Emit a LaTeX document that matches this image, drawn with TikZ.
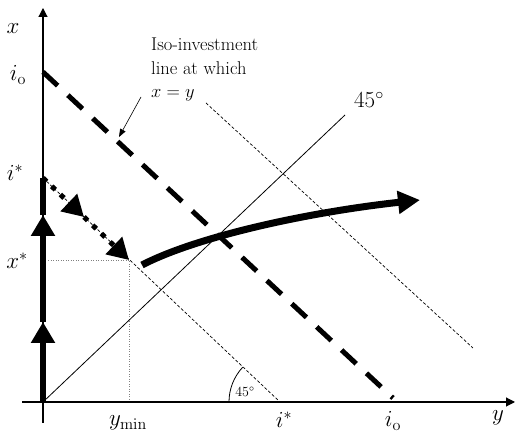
\RequirePackage{fix-cm}
\documentclass[tikz,border=0pt]{standalone}
\usepackage{tikz}
\usetikzlibrary{arrows.meta}

\begin{document}
\begin{tikzpicture}[
    x=1pt, y=-1pt,
    axis/.style={line width=1.1pt, -{Triangle[length=9pt, width=9pt]}},
    bigtip/.style={-{Triangle[length=21pt, width=23pt]}},
    path/.style={line width=6pt},
    iso/.style={line width=5pt, dash pattern=on 20pt off 14pt},
    thindash/.style={line width=0.7pt, dash pattern=on 3pt off 2pt},
    squares/.style={line width=5pt, dash pattern=on 5pt off 7pt},
    guide/.style={gray, line width=0.5pt, dotted},
    big/.style={font=\fontsize{23}{27}\selectfont},
    small/.style={font=\fontsize{14}{16}\selectfont},
    note/.style={font=\fontsize{18.5}{23.5}\selectfont, align=left}
]
\useasboundingbox (0,0) rectangle (515,435);

\coordinate (O) at (43,402);
\coordinate (xtop) at (43,8);
\coordinate (xbot) at (43,423);
\coordinate (yleft) at (22,402);
\coordinate (yright) at (515,402);
\coordinate (io) at (43,72);
\coordinate (ioend) at (393,398);
\coordinate (istar) at (43,178);
\coordinate (istarend) at (280,402);
\coordinate (P) at (129,260);
\coordinate (Pleft) at (48,260);
\coordinate (Pdown) at (129,402);
\coordinate (d1) at (84,217);
\coordinate (a1) at (43,322);
\coordinate (a2) at (43,215);
\coordinate (outer) at (206,103);
\coordinate (outerend) at (473,348);
\coordinate (diag) at (345,115);
\coordinate (cstart) at (142,265);
\coordinate (cend) at (420,200);
\coordinate (ptrstart) at (141,97);
\coordinate (ptr) at (119,137);

\draw[guide] (Pleft) -- (P) -- (Pdown);
\draw[line width=0.8pt] (O) -- (diag);
\draw[thindash] (istar) -- (istarend);
\draw[thindash] (outer) -- (outerend);
\draw[iso] (io) -- (ioend);

\draw[axis] (xbot) -- (xtop);
\draw[axis] (yleft) -- (yright);

\draw[path, bigtip] (O) -- (a1);
\draw[path, bigtip] (a1) -- (a2);
\draw[path] (a2) -- (istar);

\draw[squares, bigtip] (istar) -- (d1);
\draw[squares, bigtip] (d1) -- (P);

\draw[line width=7pt, -{Triangle[length=22pt, width=22pt]}]
    (cstart) .. controls (198,236) and (310,212) .. (cend);

\draw[line width=0.8pt] (istarend) ++(180:51) arc[start angle=180, end angle=223, radius=51];

\node[big] (xlab) at (13,29) {$x$};
\node[big] (iolab) at (18,75) {$i_{\mathrm{o}}$};
\node[big] (istarlab) at (15,173) {$i^{*}$};
\node[big] (xstarlab) at (17,261) {$x^{*}$};
\node[big] (yminlab) at (128,423) {$y_{\mathrm{min}}$};
\node[big] (istarylab) at (284,420) {$i^{*}$};
\node[big] (ioylab) at (393,421) {$i_{\mathrm{o}}$};
\node[big] (ylab) at (498,418) {$y$};
\node[big] (diaglab) at (369,100) {$45^{\circ}$};
\node[small] (anglelab) at (245,392) {$45^{\circ}$};
\node[note, anchor=north west, inner sep=0pt] (note) at (151,38)
    {Iso-investment\\line at which\\$x = y$};

\draw[line width=0.6pt, -{Triangle[length=8pt, width=6pt]}] (ptrstart) -- (ptr);
\end{tikzpicture}
\end{document}
